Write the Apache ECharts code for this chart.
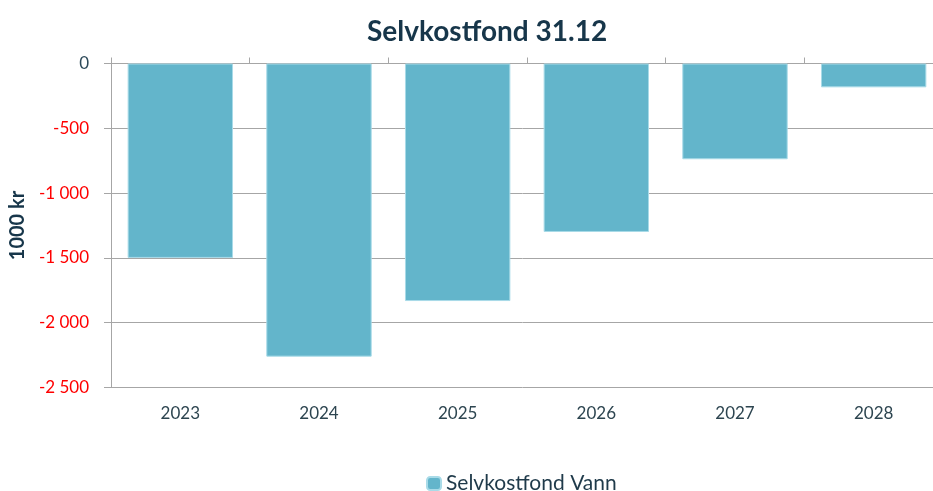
<!DOCTYPE html>
<html><head><meta charset="utf-8">
<script src="https://cdn.jsdelivr.net/npm/echarts@6/dist/echarts.min.js"></script>
<style>html,body{margin:0;padding:0;background:#fff}#c{width:933px;height:491px}</style>
</head><body><div id="c"></div>
<script>
const categories = ['2023','2024','2025','2026','2027','2028'];
const values = [-1500, -2262, -1833, -1300, -739, -184];
const seriesName = 'Selvkostfond Vann';
const titleText = 'Selvkostfond 31.12';
const yAxisName = '1000 kr';

const fmt = v => {
  const s = Math.abs(v).toString().replace(/\B(?=(\d{3})+(?!\d))/g, ' ');
  return (v < 0 ? '-' : '') + s;
};
const FONT = 'Lato';
const chart = echarts.init(document.getElementById('c'), null, {renderer:'canvas'});
chart.setOption({
  animation:false,
  title:{text:titleText,left:362,top:13,textStyle:{fontFamily:FONT,fontSize:28,fontWeight:'bold',color:'#17364a'}},
  legend:{data:[seriesName],left:421,top:468,itemWidth:14,itemHeight:13,itemGap:6,
    textStyle:{fontFamily:FONT,fontSize:21,color:'#1f3a4a'}},
  grid:{left:111,top:63.5,height:324,width:832,containLabel:false,outerBoundsMode:'none'},
  xAxis:[
    {type:'category',data:categories,position:'bottom',axisLine:{show:false},axisTick:{show:false},
      axisLabel:{margin:18,fontFamily:FONT,fontSize:17,color:'#2d4550'}},
    {type:'category',data:categories,position:'top',axisLine:{show:true,lineStyle:{color:'#a6a6a6',width:1}},
      axisTick:{show:true,length:6,lineStyle:{color:'#a6a6a6'}},axisLabel:{show:false}}
  ],
  yAxis:{type:'value',min:-2500,max:0,interval:500,
    name:yAxisName,nameLocation:'middle',nameGap:82,nameRotate:90,
    nameTextStyle:{fontFamily:FONT,fontSize:20,fontWeight:'bold',color:'#17364a'},
    axisLine:{show:true,lineStyle:{color:'#a6a6a6'}},
    axisTick:{show:true,length:7,lineStyle:{color:'#a6a6a6'}},
    splitLine:{show:true,lineStyle:{color:'#a6a6a6',width:1}},
    axisLabel:{margin:22,fontFamily:FONT,fontSize:17,formatter:fmt,
      color:v=> (Number(v) < 0 ? '#ff0000' : '#2d4a5a')}
  },
  series:[{type:'bar',name:seriesName,data:values,xAxisIndex:0,barCategoryGap:'24%',
    itemStyle:{color:'#63b5cb',borderColor:'#a9dbe8',borderWidth:1}}]
});
</script></body></html>
